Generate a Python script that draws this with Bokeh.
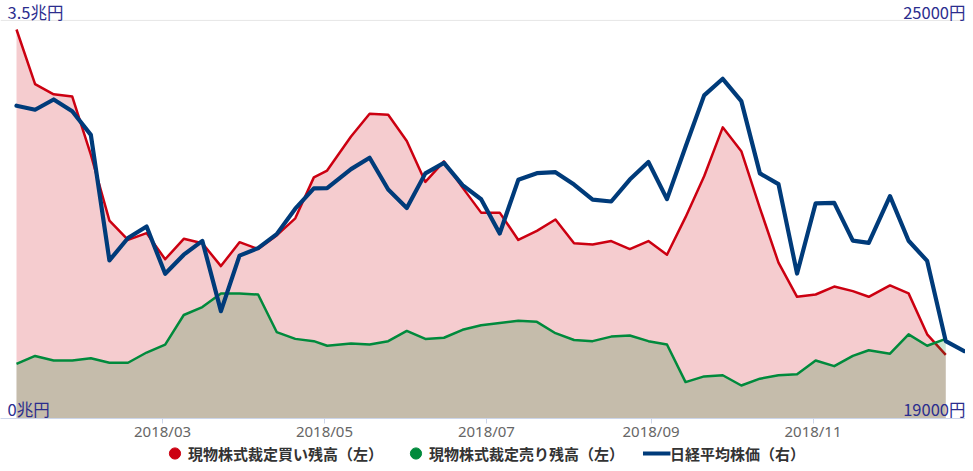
import pandas as pd
from bokeh.plotting import figure
from bokeh.layouts import column
from bokeh.models import (Range1d, Label, Span, FixedTicker, DatetimeTickFormatter,
                          Legend, LegendItem)
from bokeh.embed import file_html
from bokeh.resources import INLINE

# ---- data (weekly, 2018) ----
dates = ["2018-01-05", "2018-01-12", "2018-01-19", "2018-01-26", "2018-02-02", "2018-02-09",
         "2018-02-16", "2018-02-23", "2018-03-02", "2018-03-09", "2018-03-16", "2018-03-23",
         "2018-03-30", "2018-04-06", "2018-04-13", "2018-04-20", "2018-04-27", "2018-05-02",
         "2018-05-11", "2018-05-18", "2018-05-25", "2018-06-01", "2018-06-08", "2018-06-15",
         "2018-06-22", "2018-06-29", "2018-07-06", "2018-07-13", "2018-07-20", "2018-07-27",
         "2018-08-03", "2018-08-10", "2018-08-17", "2018-08-24", "2018-08-31", "2018-09-07",
         "2018-09-14", "2018-09-21", "2018-09-28", "2018-10-05", "2018-10-12", "2018-10-19",
         "2018-10-26", "2018-11-02", "2018-11-09", "2018-11-16", "2018-11-22", "2018-11-30",
         "2018-12-07", "2018-12-14", "2018-12-21", "2018-12-28"]

# 現物株式裁定買い残高（兆円）
buy_balance = [3.42, 2.94, 2.85, 2.83, 2.32, 1.74, 1.57, 1.63, 1.40, 1.58, 1.54, 1.34,
               1.55, 1.49, 1.61, 1.76, 2.12, 2.18, 2.48, 2.68, 2.67, 2.44, 2.08, 2.26,
               2.03, 1.81, 1.81, 1.57, 1.65, 1.75, 1.54, 1.53, 1.56, 1.49, 1.56, 1.44,
               1.77, 2.13, 2.56, 2.35, 1.85, 1.37, 1.07, 1.09, 1.16, 1.12, 1.07, 1.17,
               1.10, 0.74, 0.56]

# 現物株式裁定売り残高（兆円）
sell_balance = [0.48, 0.55, 0.51, 0.51, 0.53, 0.49, 0.49, 0.58, 0.65, 0.91, 0.98, 1.10,
                1.10, 1.09, 0.76, 0.70, 0.68, 0.64, 0.66, 0.65, 0.68, 0.77, 0.70, 0.71,
                0.78, 0.82, 0.84, 0.86, 0.85, 0.75, 0.69, 0.68, 0.72, 0.73, 0.68, 0.65,
                0.32, 0.37, 0.38, 0.29, 0.35, 0.38, 0.39, 0.51, 0.46, 0.55, 0.60, 0.57,
                0.74, 0.64, 0.70]

# 日経平均株価（円）
nikkei = [23714.53, 23653.82, 23808.06, 23631.88, 23274.53, 21382.62, 21720.25, 21892.78,
          21181.64, 21469.20, 21676.51, 20617.86, 21454.30, 21567.52, 21778.74, 22162.24,
          22467.87, 22472.78, 22758.48, 22930.36, 22450.79, 22171.35, 22694.50, 22851.75,
          22516.83, 22304.51, 21788.14, 22597.35, 22697.88, 22712.75, 22525.18, 22298.08,
          22270.38, 22601.77, 22865.15, 22307.06, 23094.67, 23869.93, 24120.04, 23783.72,
          22694.66, 22532.08, 21184.60, 22243.66, 22250.25, 21680.34, 21646.55, 22351.06,
          21678.68, 21374.83, 20166.19, 20014.77]

tick_dates = ["2018-03-01", "2018-05-01", "2018-07-01", "2018-09-01", "2018-11-01"]
left_min, left_max = 0, 3.5
right_min, right_max = 19000, 25000
left_labels = ["0兆円", "3.5兆円"]
right_labels = ["19000円", "25000円"]
series_names = ["現物株式裁定買い残高（左）", "現物株式裁定売り残高（左）", "日経平均株価（右）"]

# ---- styling / layout ----
RED = "#cc0011"
GREEN = "#008a3c"
GREEN_FILL = "#077c20"
BLUE = "#003b7a"
LABEL_BLUE = "#2b2d8e"
CJK = "Noto Sans CJK JP"

W = 965
H_MAIN, H_LEG = 443, 20
BOTTOM = 23            # px below the frame (x axis)
TOP_PAD = 20           # px between frame top and the 3.5 / 25000 gridline
PX_PER_DAY = 2.655
LEFT_PAD_DAYS = 16 / PX_PER_DAY

frame_h = H_MAIN - BOTTOM
span_px = frame_h - TOP_PAD
y_top = left_max + TOP_PAD * (left_max - left_min) / span_px
y2_top = right_max + TOP_PAD * (right_max - right_min) / span_px


def ms(ts):
    return pd.Timestamp(ts).value / 1e6


dt = pd.to_datetime(dates)
n_left = len(buy_balance)
x_start = ms(dt[0] - pd.Timedelta(days=LEFT_PAD_DAYS))
x_end = x_start + W / PX_PER_DAY * 86400000.0

p = figure(width=W, height=H_MAIN, x_axis_type="datetime",
           x_range=Range1d(x_start, x_end), y_range=Range1d(left_min, y_top),
           y_axis_location=None, toolbar_location=None, output_backend="svg",
           min_border_left=0, min_border_right=0, min_border_top=0,
           min_border_bottom=BOTTOM, title=None)
p.extra_y_ranges = {"right": Range1d(right_min, y2_top)}
p.outline_line_color = None
p.background_fill_color = "white"
p.border_fill_color = "white"
p.xgrid.visible = False
p.ygrid.visible = False

p.add_layout(Span(location=left_max, dimension="width", line_color="#e6e6e6",
                  line_width=1, level="underlay"))

# series
p.varea(x=dt[:n_left], y1=0, y2=buy_balance, fill_color=RED, fill_alpha=0.2)
p.line(x=dt[:n_left], y=buy_balance, line_color=RED, line_width=2.5, line_join="round")
p.varea(x=dt[:n_left], y1=0, y2=sell_balance, fill_color=GREEN_FILL, fill_alpha=0.2)
p.line(x=dt[:n_left], y=sell_balance, line_color=GREEN, line_width=2.5, line_join="round")
p.line(x=dt, y=nikkei, y_range_name="right", line_color=BLUE, line_width=4.2,
       line_join="round", line_cap="round")

# x axis
xa = p.xaxis[0]
xa.ticker = FixedTicker(ticks=[ms(t) for t in tick_dates])
fmt = "%Y/%m"
xa.formatter = DatetimeTickFormatter(microseconds=fmt, milliseconds=fmt, seconds=fmt,
                                     minsec=fmt, minutes=fmt, hourmin=fmt, hours=fmt,
                                     days=fmt, months=fmt, years=fmt)
xa.axis_line_color = "#ccd6eb"
xa.axis_line_width = 1
xa.major_tick_line_color = "#ccd6eb"
xa.major_tick_out = 5
xa.major_tick_in = 0
xa.minor_tick_line_color = None
xa.major_label_text_color = "#666666"
xa.major_label_text_font = "Noto Sans"
xa.major_label_text_font_size = "15px"
xa.major_label_standoff = -3

# axis end labels (inside the frame)
lab_kw = dict(text_font=CJK, text_font_size="16.5px", text_color=LABEL_BLUE,
              text_baseline="bottom")
p.add_layout(Label(x=x_start, y=left_max, text=left_labels[1], x_offset=7, y_offset=-4, **lab_kw))
p.add_layout(Label(x=x_start, y=left_min, text=left_labels[0], x_offset=7, y_offset=-2, **lab_kw))
p.add_layout(Label(x=x_end, y=right_max, y_range_name="right", text=right_labels[1],
                   text_align="right", y_offset=-4, **lab_kw))
p.add_layout(Label(x=x_end, y=right_min, y_range_name="right", text=right_labels[0],
                   text_align="right", y_offset=-2, **lab_kw))

# ---- legend strip (own small figure under the chart) ----
lg = figure(width=W, height=H_LEG, x_range=Range1d(0, 1), y_range=Range1d(0, 1),
            x_axis_location=None, y_axis_location=None, toolbar_location=None,
            output_backend="svg", min_border=0, title=None)
lg.outline_line_color = None
lg.xgrid.visible = False
lg.ygrid.visible = False
# legend proxies placed outside the visible range
r1 = lg.scatter(x=[-5], y=[-5], marker="circle", fill_color=RED, line_color=RED)
r2 = lg.scatter(x=[-5], y=[-5], marker="circle", fill_color=GREEN, line_color=GREEN)
r3 = lg.line(x=[-5, -4], y=[-5, -5], line_color=BLUE, line_width=4)
legend = Legend(items=[LegendItem(label=series_names[0], renderers=[r1]),
                       LegendItem(label=series_names[1], renderers=[r2]),
                       LegendItem(label=series_names[2], renderers=[r3])],
                orientation="horizontal", location="center",
                glyph_width=28, glyph_height=28, label_height=16, label_standoff=0,
                spacing=18, padding=0, margin=0, border_line_color=None,
                background_fill_alpha=0,
                label_text_font=CJK, label_text_font_size="15px",
                label_text_font_style="bold", label_text_color="#333333")
lg.add_layout(legend)

layout = column(p, lg, spacing=0)
open("out.html", "w").write(file_html(layout, INLINE))
